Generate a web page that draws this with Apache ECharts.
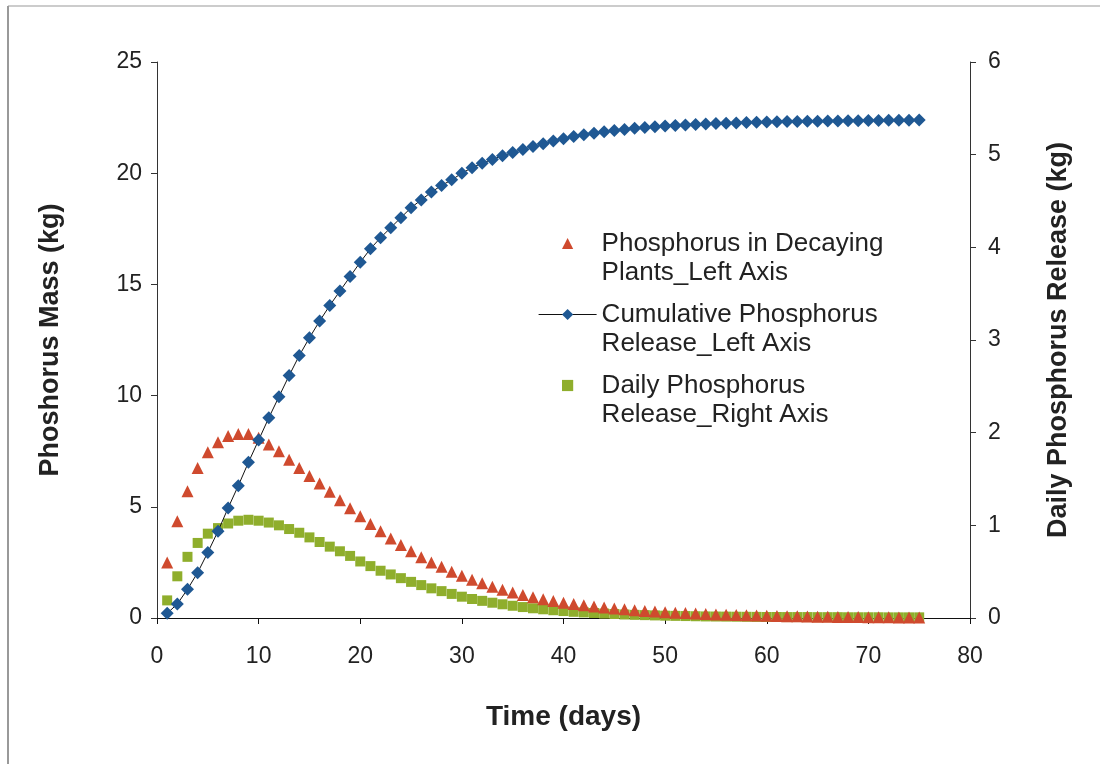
<!DOCTYPE html>
<html>
<head>
<meta charset="utf-8">
<script src="https://cdn.jsdelivr.net/npm/echarts@6/dist/echarts.min.js"></script>
<style>
  html, body { margin: 0; padding: 0; background: #fff; }
  #main { width: 1105px; height: 764px; }
</style>
</head>
<body>
<div id="main"></div>
<script>
// time in days
var days = [1, 2, 3, 4, 5, 6, 7, 8, 9, 10, 11, 12, 13, 14, 15, 16, 17, 18, 19, 20,
  21, 22, 23, 24, 25, 26, 27, 28, 29, 30, 31, 32, 33, 34, 35, 36, 37, 38, 39, 40,
  41, 42, 43, 44, 45, 46, 47, 48, 49, 50, 51, 52, 53, 54, 55, 56, 57, 58, 59, 60,
  61, 62, 63, 64, 65, 66, 67, 68, 69, 70, 71, 72, 73, 74, 75];

// phosphorus in decaying plants (kg, left axis)
var plantP = [2.5, 4.35, 5.7, 6.75, 7.45, 7.9, 8.18, 8.27, 8.27, 8.1,
  7.8, 7.5, 7.12, 6.75, 6.38, 6.05, 5.68, 5.3, 4.93, 4.57,
  4.23, 3.9, 3.58, 3.28, 3.0, 2.73, 2.5, 2.3, 2.08, 1.9,
  1.72, 1.56, 1.41, 1.27, 1.15, 1.03, 0.93, 0.84, 0.76, 0.69,
  0.63, 0.57, 0.52, 0.47, 0.43, 0.39, 0.35, 0.32, 0.29, 0.26,
  0.24, 0.22, 0.2, 0.18, 0.16, 0.15, 0.13, 0.12, 0.11, 0.1,
  0.09, 0.08, 0.075, 0.07, 0.06, 0.055, 0.05, 0.045, 0.04, 0.037,
  0.033, 0.03, 0.027, 0.025, 0.022];

// cumulative phosphorus release (kg, left axis)
var cumRelease = [0.21, 0.63, 1.29, 2.04, 2.95, 3.9, 4.95, 5.95, 7.0, 8.0,
  9.0, 9.95, 10.9, 11.8, 12.6, 13.35, 14.05, 14.7, 15.35, 16.0,
  16.6, 17.1, 17.55, 18.0, 18.45, 18.8, 19.15, 19.45, 19.7, 20.0,
  20.25, 20.45, 20.62, 20.78, 20.93, 21.07, 21.2, 21.32, 21.45, 21.55,
  21.65, 21.73, 21.8, 21.86, 21.92, 21.97, 22.02, 22.06, 22.09, 22.12,
  22.15, 22.17, 22.19, 22.21, 22.23, 22.25, 22.26, 22.28, 22.29, 22.3,
  22.31, 22.32, 22.33, 22.34, 22.34, 22.35, 22.35, 22.36, 22.36, 22.37,
  22.37, 22.38, 22.38, 22.38, 22.39];

// daily phosphorus release (kg, right axis)
var dailyRelease = [0.19, 0.45, 0.66, 0.81, 0.91, 0.97, 1.02, 1.05, 1.06, 1.05,
  1.03, 1.0, 0.96, 0.92, 0.87, 0.82, 0.77, 0.72, 0.67, 0.61,
  0.56, 0.51, 0.47, 0.43, 0.39, 0.355, 0.32, 0.29, 0.26, 0.23,
  0.205, 0.185, 0.165, 0.148, 0.132, 0.118, 0.105, 0.094, 0.084, 0.075,
  0.067, 0.06, 0.054, 0.048, 0.043, 0.038, 0.034, 0.031, 0.028, 0.025,
  0.023, 0.021, 0.019, 0.017, 0.016, 0.015, 0.014, 0.013, 0.012, 0.011,
  0.011, 0.01, 0.01, 0.01, 0.009, 0.009, 0.009, 0.008, 0.008, 0.008,
  0.008, 0.007, 0.007, 0.007, 0.007];

var names = [
  'Phosphorus in Decaying\nPlants_Left Axis',
  'Cumulative Phosphorus\nRelease_Left Axis',
  'Daily Phosphorus\nRelease_Right Axis'
];

function pairs(arr) {
  return days.map(function (d, i) { return [d, arr[i]]; });
}

var font = 'Liberation Sans, Arial, sans-serif';
var chart = echarts.init(document.getElementById('main'));

var axisLabel = { fontSize: 23, color: '#222', fontFamily: font };
var axisName = { fontSize: 27, fontWeight: 'bold', color: '#222', fontFamily: font };

var option = {
  animation: false,
  backgroundColor: '#fff',
  grid: { left: 157, right: 135, top: 62, bottom: 146 },
  legend: {
    orient: 'vertical',
    left: 533,
    top: 195,
    itemWidth: 58,
    itemHeight: 14,
    itemGap: -16,
    // blank first line so the icon sits beside the first text line
    formatter: function (name) { return '\n' + name; },
    textStyle: { fontSize: 26, lineHeight: 29, color: '#222', fontFamily: font },
    data: [
      { name: names[0] },
      { name: names[1], lineStyle: { width: 1.2, color: '#111' } },
      { name: names[2] }
    ]
  },
  xAxis: {
    type: 'value',
    min: 0, max: 80, interval: 10,
    name: 'Time (days)',
    nameLocation: 'middle',
    nameGap: 85,
    nameTextStyle: Object.assign({}, axisName, { fontSize: 28 }),
    axisLine: { show: true, lineStyle: { color: '#111', width: 1 } },
    axisTick: { show: true, length: 6, lineStyle: { color: '#111' } },
    axisLabel: Object.assign({ margin: 27 }, axisLabel),
    splitLine: { show: false }
  },
  yAxis: [
    {
      type: 'value',
      position: 'left',
      min: 0, max: 25, interval: 5,
      name: 'Phoshorus Mass (kg)',
      nameLocation: 'middle',
      nameRotate: 90,
      nameGap: 93,
      nameTextStyle: axisName,
      axisLine: { show: true, lineStyle: { color: '#333', width: 1 } },
      axisTick: { show: true, length: 6, lineStyle: { color: '#333' } },
      axisLabel: Object.assign({ margin: 15 }, axisLabel),
      splitLine: { show: false }
    },
    {
      type: 'value',
      position: 'right',
      min: 0, max: 6, interval: 1,
      name: 'Daily Phosphorus Release (kg)',
      nameLocation: 'middle',
      nameRotate: 90,
      nameGap: 75,
      nameTextStyle: axisName,
      axisLine: { show: true, lineStyle: { color: '#333', width: 1 } },
      axisTick: { show: true, length: 6, lineStyle: { color: '#333' } },
      axisLabel: Object.assign({ margin: 18 }, axisLabel),
      splitLine: { show: false }
    }
  ],
  graphic: [
    { type: 'line', shape: { x1: 8, y1: 6, x2: 8, y2: 764 }, style: { stroke: '#777', lineWidth: 1.5 } },
    { type: 'line', shape: { x1: 8, y1: 6, x2: 1100, y2: 6 }, style: { stroke: '#999', lineWidth: 1 } }
  ],
  series: [
    {
      name: names[2],
      type: 'line',
      yAxisIndex: 1,
      data: pairs(dailyRelease),
      symbol: 'rect',
      symbolSize: 10,
      lineStyle: { width: 0 },
      itemStyle: { color: '#8fae2c' },
      z: 2
    },
    {
      name: names[0],
      type: 'line',
      yAxisIndex: 0,
      data: pairs(plantP),
      symbol: 'triangle',
      symbolSize: 12,
      lineStyle: { width: 0 },
      itemStyle: { color: '#cf4a2e' },
      z: 3
    },
    {
      name: names[1],
      type: 'line',
      yAxisIndex: 0,
      data: pairs(cumRelease),
      symbol: 'diamond',
      symbolSize: 13,
      lineStyle: { width: 1, color: '#111' },
      itemStyle: { color: '#1f5893' },
      z: 4
    }
  ]
};

chart.setOption(option);
</script>
</body>
</html>
